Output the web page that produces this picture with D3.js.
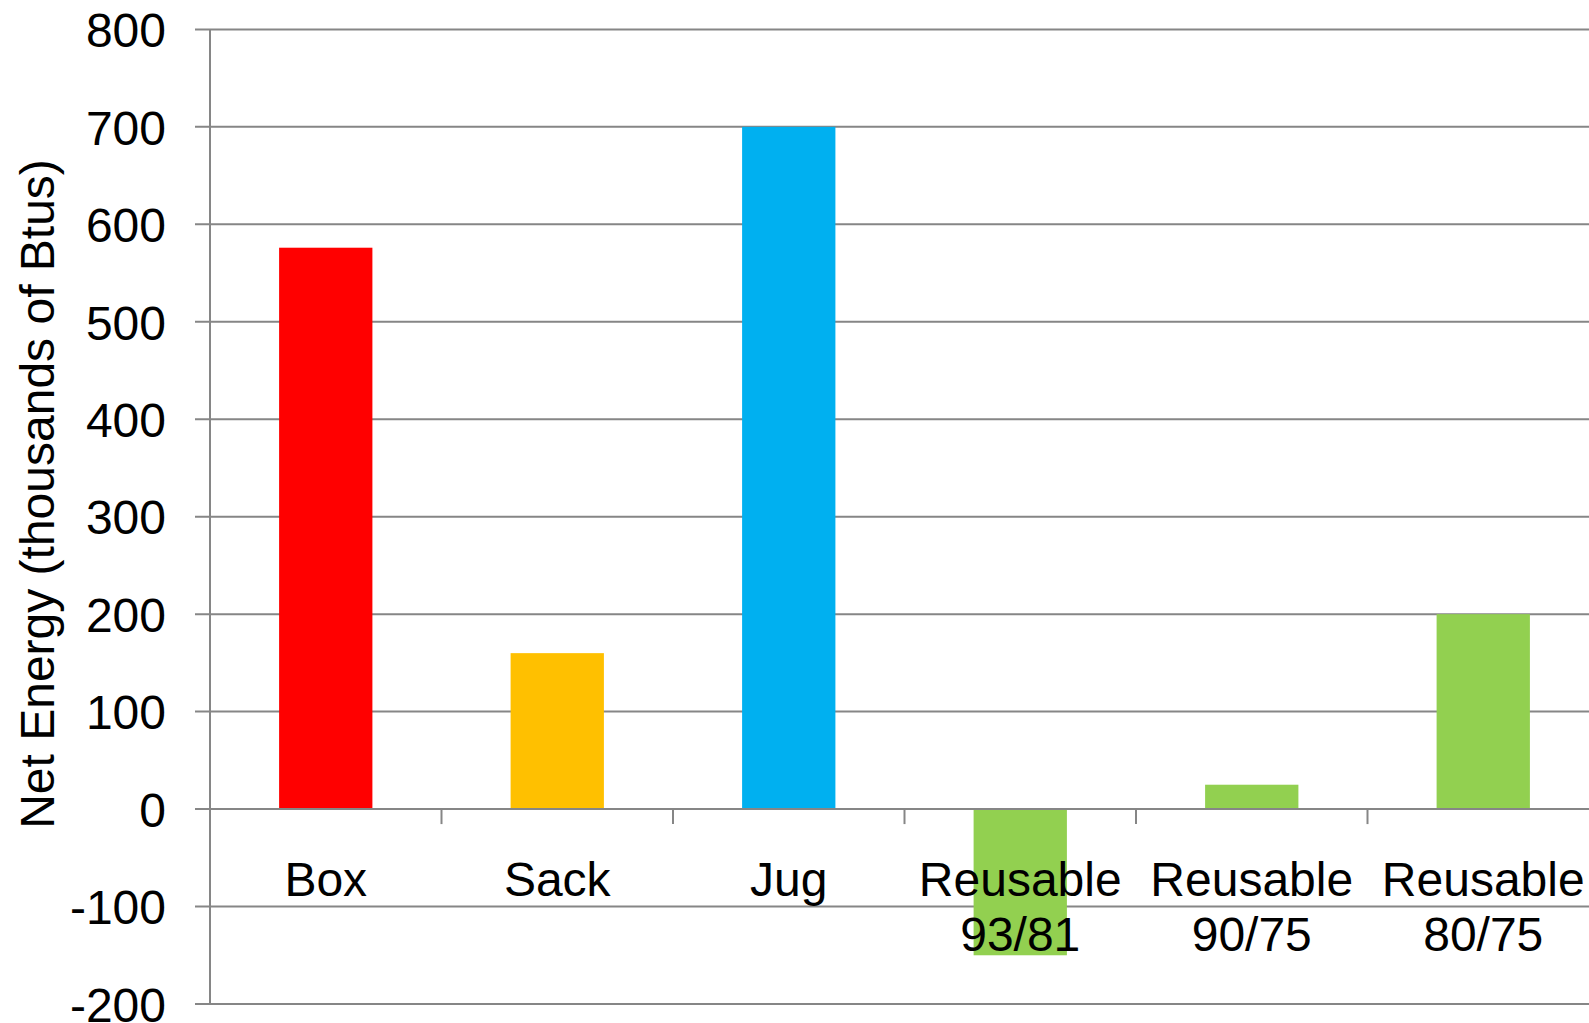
<!DOCTYPE html>
<html>
<head>
<meta charset="utf-8">
<script src="https://cdn.jsdelivr.net/npm/d3@7"></script>
<style>
  html, body { margin: 0; padding: 0; background: #fff; overflow: hidden; }
  svg { display: block; }
  text { font-family: "Liberation Sans", Arial, sans-serif; fill: #000; }
</style>
</head>
<body>
<svg id="chart" width="1589" height="1023"></svg>
<script>
// Data
const categories = [["Box"], ["Sack"], ["Jug"], ["Reusable", "93/81"], ["Reusable", "90/75"], ["Reusable", "80/75"]];
const values = [576, 160, 700, -150, 25, 200];
const barColors = ["#FF0000", "#FFC000", "#00B0F0", "#92D050", "#92D050", "#92D050"];
const yTicks = [-200, -100, 0, 100, 200, 300, 400, 500, 600, 700, 800];
const yTitle = "Net Energy (thousands of Btus)";

(function () {
const W = 1589, H = 1023;
const plotLeft = 210, step = 231.5, plotTop = 29.4, plotBottom = 1004;
const fontSize = "48px";
const svg = d3.select("#chart");
const gridColor = "#868686";

const keys = categories.map((c, i) => i);
const x = d3.scaleBand().domain(keys).range([plotLeft, plotLeft + step * keys.length]).padding(0);
const y = d3.scaleLinear().domain([-200, 800]).range([plotBottom, plotTop]);
const barW = x.bandwidth() * 0.403;

// Gridlines with left tick extension
const yAxis = d3.axisLeft(y).tickValues(yTicks).tickSize(0).tickFormat(d => d);
const yg = svg.append("g").attr("transform", `translate(${plotLeft},0)`);
yg.selectAll("line.grid").data(yTicks).join("line")
  .attr("class", "grid")
  .attr("x1", -15).attr("x2", W - plotLeft + 20)
  .attr("y1", d => y(d)).attr("y2", d => y(d))
  .attr("stroke", gridColor).attr("stroke-width", 2);
yg.call(yAxis);
yg.select(".domain").remove();
yg.selectAll(".tick text")
  .attr("x", -44)
  .attr("dy", "0.36em")
  .style("font-size", fontSize)
  .style("font-family", "'Liberation Sans', Arial, sans-serif")
  .attr("fill", "#000");

// Vertical axis line
svg.append("line")
  .attr("x1", plotLeft).attr("x2", plotLeft)
  .attr("y1", plotTop).attr("y2", plotBottom)
  .attr("stroke", gridColor).attr("stroke-width", 2);

// Bars
svg.append("g").selectAll("rect").data(values).join("rect")
  .attr("x", (d, i) => x(i) + (x.bandwidth() - barW) / 2)
  .attr("width", barW)
  .attr("y", d => Math.min(y(d), y(0)))
  .attr("height", d => Math.abs(y(d) - y(0)))
  .attr("fill", (d, i) => barColors[i]);

// Zero axis line and category ticks
svg.append("line")
  .attr("x1", plotLeft - 15).attr("x2", W + 10)
  .attr("y1", y(0)).attr("y2", y(0))
  .attr("stroke", gridColor).attr("stroke-width", 2);
svg.append("g").selectAll("line").data(keys.slice(1)).join("line")
  .attr("x1", d => x(d)).attr("x2", d => x(d))
  .attr("y1", y(0)).attr("y2", y(0) + 15)
  .attr("stroke", gridColor).attr("stroke-width", 2);

// Category labels
const lab = svg.append("g").selectAll("text").data(categories).join("text")
  .attr("text-anchor", "middle")
  .style("font-size", fontSize);
lab.each(function(lines, i) {
  const t = d3.select(this);
  lines.forEach((ln, j) => {
    t.append("tspan")
      .attr("x", x(i) + x.bandwidth() / 2)
      .attr("y", 896 + j * 55)
      .text(ln);
  });
});

// Y title
svg.append("text")
  .attr("transform", `translate(54, 494) rotate(-90)`)
  .attr("text-anchor", "middle")
  .style("font-size", fontSize)
  .text(yTitle);
})();
</script>
</body>
</html>
